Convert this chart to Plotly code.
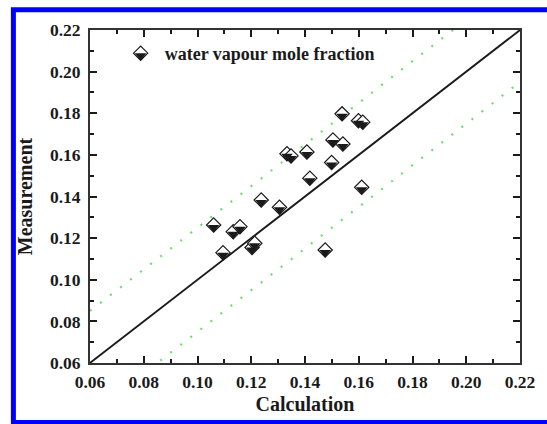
import plotly.graph_objects as go

# Calculated vs measured water vapour mole fraction
calculation = [0.1060, 0.1095, 0.1133, 0.1158, 0.1203, 0.1213, 0.1237, 0.1305,
               0.1333, 0.1348, 0.1407, 0.1418, 0.1475, 0.1499, 0.1504, 0.1538,
               0.1541, 0.1599, 0.1615, 0.1611]
measurement = [0.1263, 0.1130, 0.1231, 0.1255, 0.1155, 0.1175, 0.1383, 0.1348,
               0.1605, 0.1595, 0.1614, 0.1488, 0.1143, 0.1563, 0.1672, 0.1797,
               0.1652, 0.1764, 0.1757, 0.1444]
series_name = "water vapour mole fraction"

axis_range = [0.06, 0.22]
band = 0.025          # +/- deviation band around the 1:1 line

W, H = 547, 424
M = dict(l=90, r=22, t=30, b=61)
plot_h = H - M["t"] - M["b"]
plot_w = W - M["l"] - M["r"]

# half-filled diamond: white diamond + black lower triangle shifted down
dia_size = 11
tri_size = 10
shift_px = tri_size / 4.0
shift = shift_px * (axis_range[1] - axis_range[0]) / plot_h

serif = "Liberation Serif, Times New Roman, serif"
ink = "#1a1a1a"
green = "#6fdc6f"

fig = go.Figure()

diag = axis_range
fig.add_trace(go.Scatter(x=diag, y=[v + band for v in diag], mode="lines",
                         line=dict(color=green, width=2.2, dash="2px,10.7px"),
                         showlegend=False, hoverinfo="skip"))
fig.add_trace(go.Scatter(x=diag, y=[v - band for v in diag], mode="lines",
                         line=dict(color=green, width=2.2, dash="2px,10.7px"),
                         showlegend=False, hoverinfo="skip"))
fig.add_trace(go.Scatter(x=diag, y=diag, mode="lines",
                         line=dict(color=ink, width=1.8),
                         showlegend=False, hoverinfo="skip"))

fig.add_trace(go.Scatter(x=calculation, y=measurement, mode="markers",
                         name=series_name, legend="legend",
                         marker=dict(symbol="diamond", size=dia_size, color="white",
                                     line=dict(color=ink, width=1.2))))
fig.add_trace(go.Scatter(x=calculation, y=measurement, mode="markers",
                         name=" ", legend="legend2", yaxis="y2",
                         marker=dict(symbol="triangle-down", size=tri_size, color=ink,
                                     line=dict(width=0))))

tick_font = dict(family=serif, size=17.5, color=ink, weight="bold")
title_font = dict(family=serif, size=20, color=ink, weight="bold")
legend_font = dict(family=serif, size=18, color=ink, weight="bold")
axis_common = dict(range=axis_range, dtick=0.02, tick0=0.06, tickformat=".2f",
                   ticks="inside", ticklen=7, tickwidth=1.5, tickcolor=ink,
                   showline=True, linecolor="#333333", linewidth=2, mirror="ticks",
                   showgrid=False, zeroline=False, tickfont=tick_font,
                   minor=dict(dtick=0.01, ticks="inside", ticklen=4, tickwidth=1.5,
                              tickcolor=ink, showgrid=False))

leg_x = 0.062
leg_y = 0.985
fig.update_layout(
    width=W, height=H, margin=M,
    paper_bgcolor="white", plot_bgcolor="white",
    xaxis=dict(**axis_common, ticklabelstandoff=2,
               title=dict(text="Calculation", standoff=6, font=title_font)),
    yaxis=dict(**axis_common, ticklabelstandoff=4,
               title=dict(text="Measurement", standoff=12, font=title_font)),
    yaxis2=dict(range=[axis_range[0] + shift, axis_range[1] + shift],
                overlaying="y", visible=False),
    legend=dict(x=leg_x, y=leg_y, xanchor="left", yanchor="top", itemwidth=38,
                bgcolor="rgba(0,0,0,0)", borderwidth=0, font=legend_font),
    legend2=dict(x=leg_x, y=leg_y - shift_px / plot_h, xanchor="left", yanchor="top",
                 itemwidth=38,
                 bgcolor="rgba(0,0,0,0)", borderwidth=0, font=legend_font),
    shapes=[dict(type="rect", xref="paper", yref="paper",
                 x0=(12.5 - M["l"]) / plot_w, x1=(560 - M["l"]) / plot_w,
                 y0=(H - M["b"] - 422.5) / plot_h, y1=(H - M["b"] - 9.8) / plot_h,
                 line=dict(color="#0000ff", width=5), fillcolor="rgba(0,0,0,0)",
                 layer="above")],
)

fig.write_html("out.html")
